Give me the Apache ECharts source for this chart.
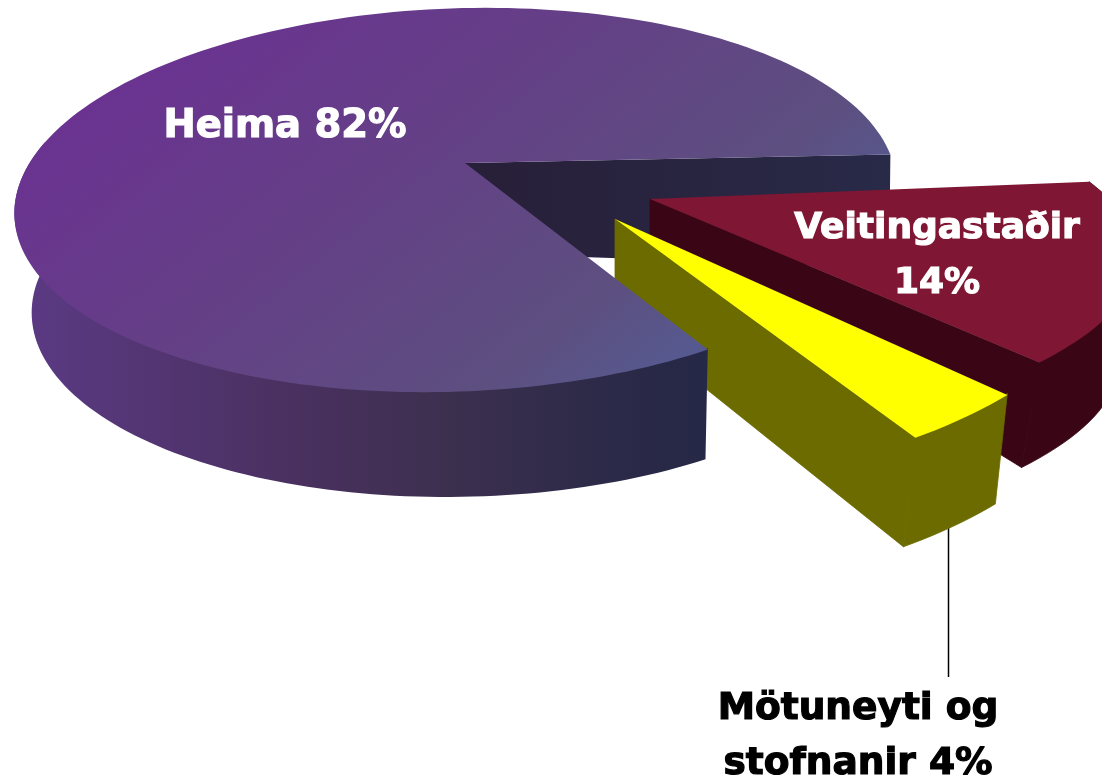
<!DOCTYPE html>
<html>
<head>
<meta charset="utf-8">
<title>Heima 82%</title>
<script src="https://cdn.jsdelivr.net/npm/echarts@6/dist/echarts.min.js"></script>
<style>
  html, body { margin: 0; padding: 0; background: #fff; }
  #chart { width: 1102px; height: 783px; }
</style>
</head>
<body>
<div id="chart"></div>
<script>
const categories = ['Heima', 'Veitingastaðir', 'Mötuneyti og\nstofnanir']
const values = [82, 14, 4]
const separators = [' ', '\n', ' ']

// Where the first slice starts, clockwise from 3 o'clock
const START_ANGLE = 53.5

// Perspective drawing of each slice: outline ellipses for top and bottom faces,
// the tip of the wedge, and where its label goes. phase turns the slice's sweep
// along its own ellipse, since an exploded slice sits elsewhere in the perspective
const slices = [
  {
    top: { cx: 455.5, cy: 200, a: 441, b: 192, skewX: -0.065, skewY: -0.018 },
    bottom: { cx: 463, cy: 305, a: 431, b: 192, skewX: -0.09, skewY: 0 },
    phase: 0,
    tip: [465, 163],
    tipBottom: [465, 253],
    label: [285, 127],
    fontSize: 38.5,
    labelColor: '#fff',
    z: { back: 1, front: 30 }
  },
  {
    top: { cx: 395, cy: 257, a: 742, b: 213, skewX: 0, skewY: 0 },
    bottom: { cx: 377, cy: 362, a: 742, b: 213, skewX: 0, skewY: 0 },
    phase: -9.4,
    tip: [650, 199],
    tipBottom: [650, 238],
    label: [937, 256],
    fontSize: 36,
    labelColor: '#fff',
    z: { back: 10, front: 10 }
  },
  {
    top: { cx: 636, cy: 227, a: 492, b: 256, skewX: 0, skewY: 0 },
    bottom: { cx: 624, cy: 336, a: 492, b: 256, skewX: 0, skewY: 0 },
    phase: 1.9,
    tip: [615, 219],
    tipBottom: [615, 316],
    label: [858, 737],
    fontSize: 37.5,
    labelColor: '#000',
    z: { back: 20, front: 20 }
  }
]

const total = values.reduce((a, b) => a + b, 0)
const { LinearGradient } = echarts.graphic

const topFills = [
  new LinearGradient(100, 0, 500, 500, [
    { offset: 0, color: '#6c2f94' },
    { offset: 0.5, color: '#644086' },
    { offset: 0.85, color: '#5d4f80' },
    { offset: 1, color: '#56598f' }
  ], true),
  '#7f1734',
  '#ffff00'
]
const wallFills = [
  new LinearGradient(20, 0, 705, 0, [
    { offset: 0, color: '#5b3a84' },
    { offset: 0.4, color: '#4a3060' },
    { offset: 0.62, color: '#3d304f' },
    { offset: 0.85, color: '#2c2a48' },
    { offset: 1, color: '#252846' }
  ], true),
  '#3a0616',
  '#6b6b00'
]
const innerFills = [
  new LinearGradient(465, 0, 890, 0, [
    { offset: 0, color: '#281f38' },
    { offset: 1, color: '#282a48' }
  ], true),
  '#3a0616',
  '#6b6b00'
]

function pointOn(e, deg) {
  const t = deg * Math.PI / 180
  const dx = e.a * Math.cos(t)
  const dy = e.b * Math.sin(t)
  return [e.cx + dx + e.skewX * dy, e.cy + dy + e.skewY * dx]
}

function arcPoints(e, from, to) {
  const pts = []
  const steps = Math.max(8, Math.ceil(Math.abs(to - from) / 1.5))
  for (let i = 0; i <= steps; i++) {
    pts.push(pointOn(e, from + (to - from) * i / steps))
  }
  return pts
}

function wallStyle(fill) {
  // same colour stroke closes the hairline between neighbouring walls
  return typeof fill === 'string' ? { fill, stroke: fill, lineWidth: 0.8 } : { fill }
}

function renderSlice(params, api) {
  const i = params.dataIndex
  const s = slices[i]
  let before = 0
  for (let k = 0; k < i; k++) before += values[k]
  let from = START_ANGLE + before / total * 360 + s.phase
  if (from > 270) from -= 360
  const to = from + api.value(0) / total * 360

  const children = []

  // cut wall between the tip and the end of the arc
  children.push({
    type: 'polygon',
    z2: s.z.back,
    shape: { points: [s.tip, pointOn(s.top, to), pointOn(s.bottom, to), s.tipBottom] },
    style: wallStyle(innerFills[i]),
    silent: true
  })

  // outer wall, only the part that faces the viewer; its front edge is tucked
  // a little under the top face so no white hairline shows between them
  const wallEnd = Math.min(to, 200)
  const wallTop = arcPoints(s.top, from, wallEnd).map(p => [p[0], p[1] > s.top.cy + 20 ? p[1] - 1.5 : p[1]])
  children.push({
    type: 'polygon',
    z2: s.z.front,
    shape: { points: wallTop.concat(arcPoints(s.bottom, wallEnd, from)) },
    style: wallStyle(wallFills[i]),
    silent: true
  })

  // top face
  children.push({
    type: 'polygon',
    z2: s.z.front + 1,
    shape: { points: [s.tip].concat(arcPoints(s.top, from, to)) },
    style: { fill: topFills[i] },
    silent: true
  })

  // leader for the small slice
  if (i === 2) {
    children.push({
      type: 'line',
      z2: s.z.front - 1,
      shape: { x1: 948.5, y1: 500, x2: 948.5, y2: 677 },
      style: { stroke: '#000', lineWidth: 1.5 },
      silent: true
    })
  }

  children.push({
    type: 'text',
    z2: 100,
    style: {
      text: categories[i] + separators[i] + api.value(0) + '%',
      x: s.label[0],
      y: s.label[1],
      font: 'bold ' + s.fontSize + 'px "DejaVu Sans"',
      lineHeight: 55,
      fill: s.labelColor,
      stroke: s.labelColor,
      lineWidth: 1.2,
      align: 'center',
      verticalAlign: 'middle'
    },
    silent: true
  })

  return { type: 'group', children }
}

const chart = echarts.init(document.getElementById('chart'), null, { renderer: 'canvas' })
chart.setOption({
  animation: false,
  backgroundColor: '#fff',
  series: [{
    type: 'custom',
    coordinateSystem: 'none',
    renderItem: renderSlice,
    data: values.map(v => [v])
  }]
})
</script>
</body>
</html>
